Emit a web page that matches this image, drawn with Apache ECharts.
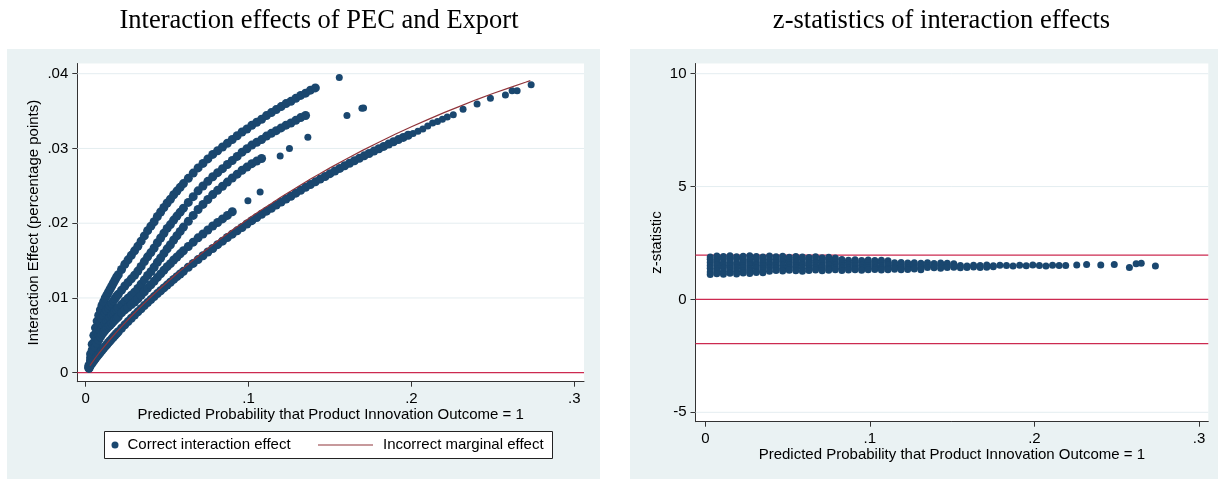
<!DOCTYPE html>
<html>
<head>
<meta charset="utf-8">
<script src="https://cdn.jsdelivr.net/npm/echarts@6/dist/echarts.min.js"></script>
<style>
  html, body { margin: 0; padding: 0; background: #ffffff; }
  #chart { width: 1218px; height: 479px; }
</style>
</head>
<body>
<div id="chart"></div>
<script>
// ---- Left panel: interaction effect vs predicted probability ----
const bandX = [0.002,0.003,0.004,0.005,0.006,0.007,0.008,0.009,0.010,0.011,0.012,0.013,0.014,0.015,0.016,0.017,0.018,0.019,0.020,
  0.022,0.024,0.026,0.028,0.030,0.032,0.034,0.036,0.038,0.040,0.042,0.044,0.046,0.048,0.050,0.052,0.054,0.056,0.058,0.060,
  0.063,0.066,0.069,0.072,0.075,0.078,0.081,0.084,0.087,0.090,0.093,0.096,0.099,0.102,0.105,0.108,0.111,0.114,0.117,0.120,
  0.123,0.126,0.129,0.132,0.135,0.138,0.141,0.144,0.147,0.150,0.153,0.156,0.159,0.162,0.165,0.168,0.171,0.174,0.177,0.180,
  0.183,0.186,0.189,0.192,0.195,0.198];

const band1Y = [0.0010,0.0025,0.0038,0.0050,0.0060,0.0069,0.0077,0.0084,0.0090,0.0095,0.0100,0.0104,0.0108,0.0112,0.0116,0.0120,0.0124,0.0128,0.0131,
  0.0138,0.0145,0.0151,0.0157,0.0163,0.0169,0.0176,0.0183,0.0190,0.0196,0.0202,0.0209,0.0215,0.0221,0.0227,0.0232,0.0238,0.0243,0.0248,0.0253,
  0.0260,0.0267,0.0274,0.0280,0.0286,0.0292,0.0297,0.0302,0.0307,0.0312,0.0317,0.0322,0.0326,0.0331,0.0335,0.0339,0.0344,0.0348,0.0352,0.0356,
  0.0360,0.0363,0.0367,0.0371,0.0374,0.0378,0.0381];

const band2Y = [0.00080,0.00200,0.00304,0.00400,0.00480,0.00552,0.00616,0.00672,0.00720,0.00760,0.00800,0.00832,0.00864,0.00896,0.00928,0.00960,0.00992,0.01024,0.01048,
  0.01104,0.01160,0.01208,0.01256,0.01304,0.01359,0.01422,0.01486,0.01550,0.01607,0.01669,0.01739,0.01802,0.01865,0.01930,0.01981,0.02042,0.02095,0.02148,0.02201,
  0.02278,0.02355,0.02433,0.02498,0.02560,0.02622,0.02676,0.02730,0.02785,0.02839,0.02894,0.02950,0.02996,0.03045,0.03082,0.03119,0.03165,0.03202,0.03238,0.03275,
  0.03312,0.03340,0.03376,0.03413,0.03441];

const band3Y = [0.00066,0.00165,0.00251,0.00330,0.00396,0.00455,0.00508,0.00554,0.00594,0.00627,0.00660,0.00686,0.00713,0.00739,0.00766,0.00792,0.00818,0.00845,0.00865,
  0.00911,0.00957,0.00997,0.01036,0.01076,0.01126,0.01183,0.01241,0.01300,0.01352,0.01410,0.01476,0.01535,0.01596,0.01657,0.01712,0.01775,0.01832,0.01890,0.01948,
  0.02025,0.02104,0.02184,0.02251,0.02317,0.02383,0.02440,0.02495,0.02550,0.02605,0.02656,0.02708,0.02751,0.02797,0.02831,0.02865];

const band4Y = [0.00057,0.00143,0.00217,0.00285,0.00342,0.00393,0.00439,0.00479,0.00513,0.00542,0.00570,0.00593,0.00616,0.00638,0.00661,0.00684,0.00707,0.00730,0.00747,
  0.00800,0.00841,0.00876,0.00911,0.00945,0.00987,0.01035,0.01083,0.01132,0.01176,0.01222,0.01275,0.01322,0.01370,0.01419,0.01459,0.01507,0.01548,0.01590,0.01632,
  0.01689,0.01746,0.01804,0.01856,0.01909,0.01962,0.02009,0.02057,0.02104,0.02153];

const band5Y = [0.00070,0.00100,0.00130,0.00160,0.00190,0.00218,0.00245,0.00273,0.00300,0.00327,0.00352,0.00378,0.00404,0.00428,0.00453,0.00477,0.00501,0.00524,0.00548,
  0.00594,0.00640,0.00684,0.00728,0.00771,0.00814,0.00855,0.00898,0.00938,0.00978,0.01018,0.01058,0.01096,0.01134,0.01172,0.01210,0.01248,0.01285,0.01320,0.01356,
  0.01410,0.01462,0.01513,0.01564,0.01614,0.01662,0.01713,0.01760,0.01808,0.01853,0.01898,0.01943,0.01990,0.02034,0.02075,0.02119,0.02161,0.02200,0.02243,0.02284,
  0.02323,0.02361,0.02402,0.02441,0.02480,0.02518,0.02553,0.02590,0.02625,0.02663,0.02698,0.02733,0.02768,0.02802,0.02835,0.02868,0.02901,0.02933,0.02965,0.02996,
  0.03027,0.03058,0.03090,0.03119,0.03148,0.03177];

// scattered observations away from the dense bands
const sparseX = [0.201,0.204,0.207,0.210,0.213,0.216,0.219,0.222,0.2257,0.2317,0.2403,0.2485,0.2577,0.2618,0.2649,0.2735,
  0.0996,0.1071,0.1194,0.1251,0.1364,0.1604,0.1696,0.1706,0.1557];
const sparseY = [0.0320,0.0323,0.0326,0.0330,0.0334,0.0336,0.0339,0.0342,0.0345,0.03524,0.03595,0.0367,0.03715,0.03773,0.03773,0.03853,
  0.0230,0.02417,0.0290,0.0300,0.0315,0.0344,0.03537,0.0354,0.0395];

// incorrect marginal effect curve
const marginalX = [0.0026,0.004,0.006,0.008,0.010,0.013,0.016,0.020,0.024,0.028,0.032,0.036,0.040,0.045,0.050,0.055,0.060,0.066,0.072,0.078,
  0.084,0.090,0.096,0.102,0.108,0.114,0.120,0.126,0.132,0.138,0.144,0.150,0.160,0.170,0.180,0.190,0.200,0.210,0.220,0.230,0.240,0.250,0.260,0.270,0.273];
const marginalY = [0.00095,0.00139,0.00200,0.00257,0.00313,0.00393,0.00471,0.00569,0.00664,0.00755,0.00844,0.00930,0.01012,0.01114,0.01211,0.01307,0.01399,0.01508,0.01612,0.01712,
  0.01812,0.01908,0.02000,0.02094,0.02181,0.02265,0.02351,0.02430,0.02512,0.02591,0.02665,0.02740,0.02860,0.02974,0.03083,0.03190,0.03290,0.03386,0.03479,0.03567,0.03654,0.03735,0.03811,0.03885,0.03908];

const leftXRange = [-0.00516, 0.30595];
const leftYRange = [-0.001204, 0.041365];
const leftXTicks = [0, 0.1, 0.2, 0.3];
const leftYTicks = [0, 0.01, 0.02, 0.03, 0.04];
const leftGridY = [0.01, 0.02, 0.03, 0.04];
const leftZeroY = [0];

// ---- Right panel: z-statistics of the interaction effects ----
const zGridX = [0.003,0.007,0.011,0.015,0.019,0.023,0.027,0.031,0.035,0.039,
  0.043,0.047,0.051,0.055,0.059,0.063,0.067,0.071,0.075,0.079,
  0.083,0.087,0.091,0.095,0.099,0.103,0.107,0.111,0.115,0.119,
  0.123,0.127,0.131,0.135,0.139,0.143,0.147,0.151,0.155,0.159,
  0.163,0.167,0.171,0.175,0.179,0.183,0.187,0.191,0.195,0.199,
  0.203,0.207,0.211,0.215];
const zRowA = [1.88,1.92,1.90,1.93,1.89,1.91,1.94,1.90,1.88,1.92,1.89,1.91,1.87,1.90,1.88,1.86,1.89,1.85,1.87,1.84];
const zRowB = [1.78,1.75,1.79,1.77,1.80,1.76,1.78,1.79,1.75,1.77,1.80,1.76,1.78,1.75,1.77,1.79,1.74,1.76,1.78,1.75,
  1.77,1.74,1.76,1.73,1.75,1.72,1.74,1.71];
const zRowC = [1.64,1.66,1.62,1.65,1.63,1.66,1.64,1.62,1.65,1.63,1.64,1.66,1.62,1.65,1.63,1.64,1.62,1.65,1.63,1.64,
  1.61,1.63,1.65,1.62,1.64,1.61,1.63,1.60,1.62,1.64,1.61,1.63,1.60,1.62,1.59,1.61,1.60,1.58];
const zRowD = [1.50,1.53,1.51,1.49,1.52,1.50,1.53,1.51,1.49,1.52,1.50,1.51,1.53,1.49,1.51,1.52,1.50,1.48,1.51,1.53,
  1.50,1.52,1.49,1.51,1.50,1.52,1.48,1.51,1.50,1.53,1.49,1.51,1.52,1.50,1.48,1.51,1.49,1.52,1.50,1.48,
  1.51,1.50,1.52,1.49,1.51,1.50,1.48,1.51,1.49,1.52,1.50,1.48,1.51,1.50];
const zRowE = [1.38,1.36,1.40,1.37,1.39,1.41,1.37,1.39,1.36,1.40,1.38,1.37,1.39,1.41,1.38,1.36,1.39,1.40,1.37,1.39,
  1.38,1.40,1.37,1.39,1.41,1.38,1.40,1.37,1.39,1.41,1.38,1.40,1.39,1.42,1.40,1.38,1.41,1.43,1.40,1.42,
  1.44,1.41,1.43,1.45];
const zRowF = [1.22,1.26,1.24,1.27,1.25,1.28,1.26,1.24,1.27,1.25,1.28,1.26,1.29,1.27,1.25,1.28,1.30,1.27,1.29,1.31,
  1.28,1.30,1.32,1.29,1.31,1.33,1.30,1.32,1.34,1.31,1.33,1.35,1.32];
const zRowG = [1.10,1.14,1.12,1.16,1.13,1.17,1.15,1.19,1.18];
const zTailX = [0.219,0.2257,0.2317,0.2403,0.2485,0.2577,0.2618,0.2649,0.2735];
const zTailY = [1.50,1.53,1.55,1.52,1.55,1.42,1.58,1.60,1.48];

const rightXRange = [-0.00596, 0.30564];
const rightYRange = [-5.4164, 10.452];
const rightXTicks = [0, 0.1, 0.2, 0.3];
const rightYTicks = [-5, 0, 5, 10];
const rightGridY = [-5, 5, 10];
const criticalZ = [-1.96, 0, 1.96];

// ---- styling ----
const SANS = '"Liberation Sans", Arial, Helvetica, sans-serif';
const SERIF = '"Liberation Serif", "Times New Roman", serif';
const NAVY = '#1a476f';
const MAROON = '#90353b';
const CRIMSON = '#cc2a50';
const PANEL = '#eaf2f3';
const GRIDLINE = '#e4edf0';
const AXIS = '#333333';

const pairs = (xs, ys) => ys.map((y, i) => [xs[i], y]);
const stataNum = v => (v === 0 ? '0' : String(v).replace(/^(-?)0\./, '$1.'));

const densePoints = [].concat(
  pairs(bandX, band1Y), pairs(bandX, band2Y), pairs(bandX, band3Y),
  pairs(bandX, band4Y), pairs(bandX, band5Y));
const loosePoints = pairs(sparseX, sparseY);
const marginalPoints = pairs(marginalX, marginalY);
const zPoints = [].concat(
  pairs(zGridX, zRowA), pairs(zGridX, zRowB), pairs(zGridX, zRowC), pairs(zGridX, zRowD),
  pairs(zGridX, zRowE), pairs(zGridX, zRowF), pairs(zGridX, zRowG), pairs(zTailX, zTailY));

function valueAxis(opts) {
  return Object.assign({
    type: 'value',
    nameLocation: 'middle',
    nameMoveOverlap: false,
    nameTextStyle: { fontFamily: SANS, fontSize: 15, color: '#000' },
    axisLine: { show: true, onZero: false, lineStyle: { color: AXIS, width: 1 } },
    axisTick: { show: true, length: 5, customValues: opts.ticks, lineStyle: { color: AXIS, width: 1 } },
    axisLabel: { customValues: opts.ticks, formatter: stataNum, margin: opts.margin,
                 fontFamily: SANS, fontSize: 15, color: '#000' },
    splitLine: { show: false }
  }, opts.extra);
}

// horizontal reference lines (y = constant across the full x range), drawn under the markers
function hLines(prefix, gi, xRange, values, color, width) {
  return values.map((v, k) => ({
    type: 'line', name: prefix + k, xAxisIndex: gi, yAxisIndex: gi, silent: true, z: 1,
    data: [[xRange[0], v], [xRange[1], v]],
    showSymbol: false, symbol: 'none', animation: false,
    itemStyle: { color: color }, lineStyle: { color: color, width: width, type: 'solid' },
    emphasis: { disabled: true }, tooltip: { show: false }
  }));
}

const chart = echarts.init(document.getElementById('chart'), null, { renderer: 'canvas' });
chart.setOption({
  animation: false,
  backgroundColor: '#ffffff',
  title: [
    { text: 'Interaction effects of PEC and Export', left: 319, top: 8, textAlign: 'center', padding: 0,
      textStyle: { fontFamily: SERIF, fontSize: 26.5, fontWeight: 'normal', color: '#000' } },
    { text: 'z-statistics of interaction effects', left: 941.5, top: 8, textAlign: 'center', padding: 0,
      textStyle: { fontFamily: SERIF, fontSize: 26.5, fontWeight: 'normal', color: '#000' } }
  ],
  graphic: {
    elements: [
      { type: 'rect', silent: true, z: -10, shape: { x: 7, y: 49, width: 593, height: 430 }, style: { fill: PANEL } },
      { type: 'rect', silent: true, z: -10, shape: { x: 630, y: 49, width: 588, height: 430 }, style: { fill: PANEL } },
      { type: 'rect', silent: true, z: 1, shape: { x: 104.5, y: 431.5, width: 448, height: 27 },
        style: { fill: '#ffffff', stroke: '#222222', lineWidth: 1 } }
    ]
  },
  legend: [
    { data: [{ name: 'Correct interaction effect', icon: 'circle' }], left: 111.5, top: 437.5, padding: 0,
      itemWidth: 7, itemHeight: 7, selectedMode: false, z: 5,
      textStyle: { fontFamily: SANS, fontSize: 15, color: '#000', padding: [0, 0, 0, 4] } },
    { data: [{ name: 'Incorrect marginal effect', icon: 'rect' }], left: 318, top: 437.5, padding: 0,
      itemWidth: 55, itemHeight: 1.2, selectedMode: false, z: 5,
      textStyle: { fontFamily: SANS, fontSize: 15, color: '#000', padding: [0, 0, 0, 5] } }
  ],
  grid: [
    { left: 77.3, top: 63.5, width: 506.7, height: 318.2, show: true, backgroundColor: '#ffffff', borderWidth: 0, containLabel: false },
    { left: 695.5, top: 63.5, width: 512.8, height: 358.2, show: true, backgroundColor: '#ffffff', borderWidth: 0, containLabel: false }
  ],
  xAxis: [
    valueAxis({ ticks: leftXTicks, margin: 10, extra: {
      gridIndex: 0, min: leftXRange[0], max: leftXRange[1],
      name: 'Predicted Probability that Product Innovation Outcome = 1', nameGap: 25.5 } }),
    valueAxis({ ticks: rightXTicks, margin: 10, extra: {
      gridIndex: 1, min: rightXRange[0], max: rightXRange[1],
      name: 'Predicted Probability that Product Innovation Outcome = 1', nameGap: 25.5 } })
  ],
  yAxis: [
    valueAxis({ ticks: leftYTicks, margin: 9, extra: {
      gridIndex: 0, min: leftYRange[0], max: leftYRange[1],
      name: 'Interaction Effect (percentage points)', nameGap: 36 } }),
    valueAxis({ ticks: rightYTicks, margin: 9, extra: {
      gridIndex: 1, min: rightYRange[0], max: rightYRange[1],
      name: 'z-statistic', nameGap: 31 } })
  ],
  series: [].concat(
    hLines('grid-left-', 0, leftXRange, leftGridY, GRIDLINE, 1),
    hLines('zero-left-', 0, leftXRange, leftZeroY, CRIMSON, 1.2),
    [
      { type: 'scatter', name: 'Correct interaction effect', xAxisIndex: 0, yAxisIndex: 0,
        symbol: 'circle', symbolSize: 9, itemStyle: { color: NAVY, opacity: 1 }, data: densePoints, z: 2 },
      { type: 'scatter', name: 'Correct interaction effect', xAxisIndex: 0, yAxisIndex: 0,
        symbol: 'circle', symbolSize: 7, itemStyle: { color: NAVY, opacity: 1 }, data: loosePoints, z: 2 },
      { type: 'line', name: 'Incorrect marginal effect', xAxisIndex: 0, yAxisIndex: 0,
        data: marginalPoints, showSymbol: false, symbol: 'none', smooth: false, z: 3,
        itemStyle: { color: MAROON }, lineStyle: { color: MAROON, width: 1.2 } }
    ],
    hLines('grid-right-', 1, rightXRange, rightGridY, GRIDLINE, 1),
    hLines('critical-right-', 1, rightXRange, criticalZ, CRIMSON, 1.2),
    [
      { type: 'scatter', name: 'z-statistic', xAxisIndex: 1, yAxisIndex: 1,
        symbol: 'circle', symbolSize: 7, itemStyle: { color: NAVY, opacity: 1 }, data: zPoints, z: 2 }
    ]
  )
});
</script>
</body>
</html>
